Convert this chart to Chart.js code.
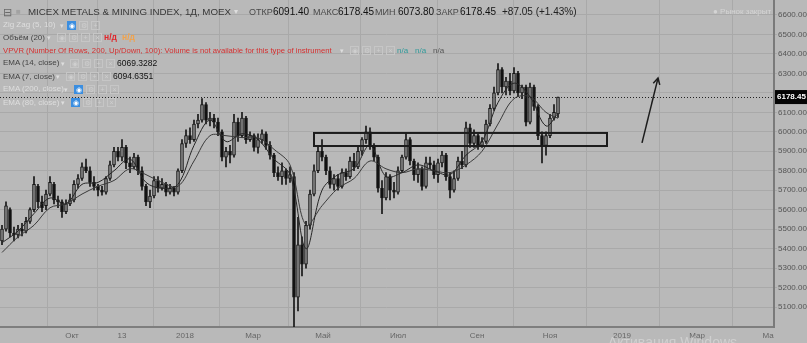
<!DOCTYPE html>
<html>
<head>
<meta charset="utf-8">
<script src="https://cdn.jsdelivr.net/npm/chart.js@4.4.0/dist/chart.umd.min.js"></script>
<style>
  body { margin: 0; background: #b9b9b9; }
  #wrap { position: relative; width: 807px; height: 343px; overflow: hidden; font-family: "Liberation Sans", Arial, sans-serif; }
  #chart { position: absolute; left: 0; top: 0; }
  .t { position: absolute; white-space: nowrap; }
  .ic { position: absolute; width: 7px; height: 7px; border: 1px solid #c6c6c6; color: #cfcfcf; font-size: 7px; line-height: 7px; text-align: center; }
  .ic.on { background: #3b8ee0; border-color: #3b8ee0; color: #fff; }
</style>
</head>
<body>
<div id="wrap">
  <canvas id="chart" width="807" height="343"></canvas>
  <div id="legend"></div>
</div>
<script>
// Daily candles (one every ~2 trading days)
const opens = [
  5440,5500,5600,5480,5470,5500,5490,5540,5600,5720,
  5640,5620,5680,5730,5650,5640,5590,5630,5650,5730,
  5760,5820,5800,5740,5720,5700,5690,5760,5830,5900,
  5870,5920,5840,5820,5870,5800,5720,5640,5670,5750,
  5710,5730,5690,5710,5690,5800,5940,5980,5960,6040,
  6060,6140,6060,6070,6050,6000,5870,5900,5880,6050,
  5980,6070,5960,5980,5920,5960,5990,5930,5880,5790,
  5770,5800,5760,5770,5150,5420,5320,5520,5680,5800,
  5900,5870,5800,5730,5760,5720,5790,5770,5850,5820,
  5900,5960,6000,5930,5870,5710,5660,5770,5700,5690,
  5800,5870,5960,5850,5780,5810,5720,5840,5830,5780,
  5840,5880,5770,5700,5760,5850,5830,6020,5940,5980,
  5930,5950,6040,6120,6200,6320,6230,6260,6210,6300,
  6200,6230,6050,6230,6130,5980,5930,5980,6070,6091.40
];
const highs = [
  5520,5640,5610,5510,5520,5530,5560,5610,5770,5730,
  5670,5700,5770,5740,5670,5650,5650,5680,5750,5780,
  5840,5860,5820,5770,5730,5720,5770,5850,5920,5920,
  5960,5930,5870,5890,5880,5820,5730,5700,5770,5770,
  5760,5740,5730,5720,5810,5960,6010,6020,6060,6090,
  6170,6150,6100,6090,6070,6010,5920,5930,6090,6070,
  6100,6080,6000,5990,5990,6010,6000,5950,5890,5820,
  5840,5810,5820,5790,5560,5460,5540,5700,5830,5920,
  5960,5880,5820,5780,5780,5810,5810,5870,5890,5920,
  5970,6030,6020,5940,5880,5750,5790,5780,5740,5820,
  5880,5995,5970,5860,5840,5820,5870,5870,5850,5860,
  5900,5890,5790,5800,5870,5900,6050,6040,6010,5990,
  5970,6060,6140,6230,6350,6330,6280,6300,6330,6310,
  6240,6240,6250,6240,6140,6000,6000,6090,6140,6178.45
];
const lows = [
  5420,5490,5460,5440,5455,5465,5480,5530,5590,5610,
  5590,5600,5670,5630,5610,5560,5580,5620,5640,5710,
  5750,5790,5720,5700,5670,5675,5680,5750,5820,5850,
  5850,5810,5790,5810,5780,5700,5620,5610,5660,5690,
  5700,5670,5680,5670,5680,5790,5920,5940,5950,6020,
  6050,6040,6030,6020,5980,5850,5820,5840,5870,5950,
  5970,5940,5950,5900,5890,5940,5910,5860,5770,5750,
  5730,5730,5740,4998,5080,5260,5300,5500,5670,5790,
  5850,5780,5710,5700,5700,5710,5750,5760,5800,5810,
  5880,5940,5910,5850,5690,5580,5650,5650,5660,5680,
  5790,5860,5830,5750,5740,5700,5710,5810,5760,5740,
  5820,5750,5660,5690,5750,5810,5820,5920,5920,5910,
  5920,5940,6030,6110,6190,6200,6190,6190,6200,6180,
  6170,6030,6040,6110,5960,5840,5880,5970,6060,6073.80
];
const closes = [
  5500,5620,5480,5470,5500,5490,5540,5600,5730,5640,
  5610,5680,5740,5650,5640,5590,5630,5650,5730,5760,
  5820,5800,5740,5720,5700,5690,5760,5830,5900,5870,
  5920,5840,5820,5870,5800,5720,5640,5670,5750,5710,
  5730,5690,5710,5690,5800,5940,5980,5960,6040,6060,
  6140,6060,6070,6050,6000,5870,5900,5880,6050,5980,
  6070,5960,5980,5920,5960,5990,5930,5880,5790,5770,
  5800,5760,5780,5150,5420,5320,5520,5680,5800,5900,
  5870,5800,5730,5760,5720,5790,5770,5850,5820,5900,
  5960,6000,5930,5870,5710,5660,5770,5700,5690,5800,
  5870,5960,5850,5780,5810,5720,5840,5830,5780,5840,
  5880,5770,5700,5760,5850,5830,6020,5940,5980,5930,
  5950,6040,6120,6200,6320,6230,6260,6210,6300,6200,
  6230,6050,6230,6130,5980,5930,5980,6070,6100,6178.45
];

// EMA lines, read every 4th candle
const emaIdx = [0,4,8,12,16,20,24,28,32,36,40,44,48,52,56,60,64,68,72,76,80,84,88,92,96,100,104,108,112,116,120,124,128,132,136,139];
const ema7 = [5430,5490,5580,5660,5630,5730,5740,5800,5860,5740,5710,5730,5930,6060,5950,5990,5960,5860,5780,5400,5700,5780,5810,5930,5770,5790,5830,5800,5780,5880,5950,6150,6250,6180,6030,6094.64];
const ema14 = [5380,5460,5520,5610,5630,5680,5720,5750,5810,5780,5740,5720,5850,5980,5980,5970,5970,5910,5830,5520,5620,5710,5760,5850,5810,5790,5810,5800,5790,5830,5900,6040,6170,6180,6100,6069.33];

const xTickPos = [17.5, 30, 45.75, 62.75, 80.25, 99, 118.75, 137, 155, 173.75, 191.5];
const xTickLabels = ['Окт', '13', '2018', 'Мар', 'Май', 'Июл', 'Сен', 'Ноя', '2019', 'Мар', 'Ма'];
const yTicks = [5100,5200,5300,5400,5500,5600,5700,5800,5900,6000,6100,6200,6300,6400,6500,6600];

const lastClose = 6178.45;
const zoneBox = { x0: 78, x1: 151.25, y0: 5927, y1: 5994 };
const arrowLine = { x0: 160, y0: 5943, x1: 164, y1: 6276 };

// drawings on top: dotted last price, zone, arrow, price tag
const overlay = {
  id: 'overlay',
  afterDatasetsDraw(chart) {
    const { ctx, chartArea: a, scales: { x, y } } = chart;
    ctx.save();
    const py = Math.round(y.getPixelForValue(lastClose)) + 0.5;
    ctx.strokeStyle = '#222';
    ctx.lineWidth = 1;
    ctx.setLineDash([1, 2]);
    ctx.beginPath(); ctx.moveTo(a.left, py); ctx.lineTo(a.right, py); ctx.stroke();
    ctx.setLineDash([]);

    ctx.lineWidth = 2;
    ctx.strokeStyle = '#1c1c1c';
    const bx0 = x.getPixelForValue(zoneBox.x0), bx1 = x.getPixelForValue(zoneBox.x1);
    const by0 = y.getPixelForValue(zoneBox.y1), by1 = y.getPixelForValue(zoneBox.y0);
    ctx.strokeRect(bx0, by0, bx1 - bx0, by1 - by0);

    const ax0 = x.getPixelForValue(arrowLine.x0), ay0 = y.getPixelForValue(arrowLine.y0);
    const ax1 = x.getPixelForValue(arrowLine.x1), ay1 = y.getPixelForValue(arrowLine.y1);
    ctx.lineWidth = 1.5;
    ctx.beginPath(); ctx.moveTo(ax0, ay0); ctx.lineTo(ax1, ay1); ctx.stroke();
    const ang = Math.atan2(ay1 - ay0, ax1 - ax0);
    ctx.beginPath();
    ctx.moveTo(ax1 - 7 * Math.cos(ang - 0.5), ay1 - 7 * Math.sin(ang - 0.5));
    ctx.lineTo(ax1, ay1);
    ctx.lineTo(ax1 - 7 * Math.cos(ang + 0.5), ay1 - 7 * Math.sin(ang + 0.5));
    ctx.stroke();
    ctx.restore();
  },
  afterDraw(chart) {
    const { ctx, chartArea: a, scales: { y } } = chart;
    const py = y.getPixelForValue(lastClose);
    ctx.save();
    ctx.fillStyle = '#050505';
    ctx.fillRect(a.right + 1, py - 7, 32, 14);
    ctx.fillStyle = '#fff';
    ctx.font = 'bold 8px "Liberation Sans", Arial';
    ctx.textBaseline = 'middle';
    ctx.fillText(lastClose.toFixed(2), a.right + 3, py);
    ctx.restore();
  }
};

const wicks = lows.map((l, i) => ({ x: i, y: [l, highs[i]] }));
const bodies = opens.map((o, i) => ({ x: i, y: [o, closes[i]] }));
const bodyColors = opens.map((o, i) => closes[i] >= o ? '#858585' : '#111');

new Chart(document.getElementById('chart'), {
  type: 'bar',
  data: {
    datasets: [
      { type: 'line', label: 'EMA (7, close)', data: emaIdx.map((v, k) => ({ x: v, y: ema7[k] })),
        borderColor: '#262626', borderWidth: 1, pointRadius: 0, tension: 0.35, order: 0 },
      { type: 'line', label: 'EMA (14, close)', data: emaIdx.map((v, k) => ({ x: v, y: ema14[k] })),
        borderColor: '#3a3a3a', borderWidth: 1, pointRadius: 0, tension: 0.35, order: 0 },
      { label: 'body', data: bodies, backgroundColor: bodyColors, borderColor: '#161616', borderWidth: 1,
        borderSkipped: false, barThickness: 3, minBarLength: 1, grouped: false, order: 1 },
      { label: 'wick', data: wicks, backgroundColor: '#161616', barThickness: 1, grouped: false, order: 2 }
    ]
  },
  options: {
    responsive: false,
    animation: false,
    events: [],
    layout: { padding: 0, autoPadding: false },
    plugins: { legend: { display: false }, tooltip: { enabled: false } },
    scales: {
      x: {
        type: 'linear', min: -0.5, max: 193, offset: false,
        grid: { color: '#a9a9a9', drawTicks: false },
        border: { color: '#7e7e7e', width: 2 },
        ticks: { autoSkip: false, maxRotation: 0, padding: 4, color: '#666', font: { size: 8, family: '"Liberation Sans", Arial' },
          callback: (v, i) => xTickLabels[i] },
        afterBuildTicks: s => { s.ticks = xTickPos.map(v => ({ value: v })); },
        afterFit: s => { s.height = 16; s.paddingLeft = 0; s.paddingRight = 0; }
      },
      y: {
        position: 'right', min: 4997.3, max: 6677,
        grid: { color: '#a9a9a9', tickLength: 3 },
        border: { color: '#7a7a7a', width: 2 },
        ticks: { padding: 1, color: '#555', font: { size: 8, family: '"Liberation Sans", Arial' },
          callback: v => v.toFixed(2) },
        afterBuildTicks: s => { s.ticks = yTicks.map(v => ({ value: v })); },
        afterFit: s => { s.width = 33; s.paddingTop = 0; s.paddingBottom = 0; }
      }
    }
  },
  plugins: [overlay]
});

// legend / header texts
const legend = document.getElementById('legend');
function txt(s, x, cy, size, color, weight) {
  const d = document.createElement('div');
  d.className = 't';
  d.textContent = s;
  d.style.left = x + 'px';
  d.style.top = (cy - (size + 2) / 2) + 'px';
  d.style.fontSize = size + 'px';
  d.style.lineHeight = (size + 2) + 'px';
  d.style.color = color;
  if (weight) d.style.fontWeight = weight;
  legend.appendChild(d);
}
function icons(x, cy, n, firstOn) {
  const glyphs = ['◉', '⚙', '+', '×'];
  for (let k = 0; k < n; k++) {
    const d = document.createElement('div');
    d.className = 'ic' + (firstOn && k === 0 ? ' on' : '');
    d.textContent = glyphs[k % 4];
    d.style.left = (x + k * 12) + 'px';
    d.style.top = (cy - 4.5) + 'px';
    legend.appendChild(d);
  }
}
const faded = '#dedede', dark = '#444';

txt('⊟', 3, 12, 11, '#6a6a6a');
txt('■', 16, 12, 8, '#a2a2a2');
txt('MICEX METALS & MINING INDEX, 1Д, MOEX', 28, 12, 9.75, '#383838');
txt('▾', 234, 12, 8, faded);
txt('ОТКР', 249, 12, 9, '#4a4a4a'); txt('6091.40', 273, 12, 10, '#111');
txt('МАКС', 313, 12, 9, '#4a4a4a'); txt('6178.45', 338, 12, 10, '#111');
txt('МИН', 375, 12, 9, '#4a4a4a'); txt('6073.80', 398, 12, 10, '#111');
txt('ЗАКР', 436, 12, 9, '#4a4a4a'); txt('6178.45', 460, 12, 10, '#111');
txt('+87.05 (+1.43%)', 502, 12, 10, '#222');
txt('● Рынок закрыт', 713, 12, 8, '#d4d4d4');

txt('Zig Zag (5, 10)', 3, 25, 8, faded); txt('▾', 60, 25, 7, faded); icons(67, 25, 3, true);
txt('Объём (20)', 3, 37.7, 8, dark); txt('▾', 47, 37.7, 7, faded); icons(57, 37.7, 4, false);
txt('н/д', 104, 37.7, 8.5, '#e0262b', 'bold'); txt('н/д', 122, 37.7, 8.5, '#f2a24a', 'bold');
txt('VPVR (Number Of Rows, 200, Up/Down, 100): Volume is not available for this type of instrument', 3, 50.7, 7.7, '#d52f2f');
txt('▾', 340, 50.7, 7, faded); icons(350, 50.7, 4, false);
txt('n/a', 397, 50.7, 8, '#2f9a9a'); txt('n/a', 415, 50.7, 8, '#2f9a9a'); txt('n/a', 433, 50.7, 8, '#555');
txt('EMA (14, close)', 3, 63.3, 8, dark); txt('▾', 61, 63.3, 7, faded); icons(70, 63.3, 4, false);
txt('6069.3282', 117, 63.3, 8.5, '#111');
txt('EMA (7, close)', 3, 76.7, 8, dark); txt('▾', 56, 76.7, 7, faded); icons(66, 76.7, 4, false);
txt('6094.6351', 113, 76.7, 8.5, '#111');
txt('EMA (200, close)', 3, 89.3, 8, faded); txt('▾', 64, 89.3, 7, faded); icons(74, 89.3, 4, true);
txt('EMA (80, close)', 3, 102.8, 8, faded); txt('▾', 61, 102.8, 7, faded); icons(71, 102.8, 4, true);

txt('Активация Windows', 608, 342, 14, 'rgba(225,225,225,0.55)');
</script>
</body>
</html>
